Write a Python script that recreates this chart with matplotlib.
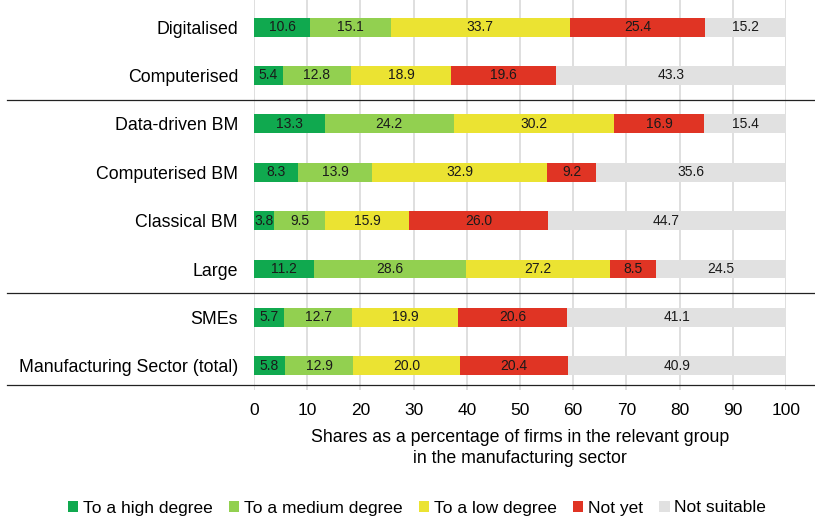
import matplotlib
matplotlib.use("Agg")
import matplotlib.pyplot as plt
import matplotlib.transforms as mtransforms
import numpy as np

plt.rcParams['font.family'] = ['Liberation Sans', 'DejaVu Sans']

categories = ["Digitalised", "Computerised", "Data-driven BM", "Computerised BM",
              "Classical BM", "Large", "SMEs", "Manufacturing Sector (total)"]
series_names = ["To a high degree", "To a medium degree", "To a low degree",
                "Not yet", "Not suitable"]
high = [10.6, 5.4, 13.3, 8.3, 3.8, 11.2, 5.7, 5.8]
medium = [15.1, 12.8, 24.2, 13.9, 9.5, 28.6, 12.7, 12.9]
low = [33.7, 18.9, 30.2, 32.9, 15.9, 27.2, 19.9, 20.0]
not_yet = [25.4, 19.6, 16.9, 9.2, 26.0, 8.5, 20.6, 20.4]
not_suitable = [15.2, 43.3, 15.4, 35.6, 44.7, 24.5, 41.1, 40.9]
xticks = [0, 10, 20, 30, 40, 50, 60, 70, 80, 90, 100]
xlabel = "Shares as a percentage of firms in the relevant group\nin the manufacturing sector"

colors = ["#10a94f", "#92d050", "#ebe332", "#e03424", "#e1e1e1"]

fig = plt.figure(figsize=(8.15, 5.21), dpi=100)
ax = fig.add_axes([254/815, 1 - 390/521, 532/815, 390/521])

y = np.arange(len(categories))
left = np.zeros(len(categories))
for name, vals, col in zip(series_names, [high, medium, low, not_yet, not_suitable], colors):
    vals = np.array(vals)
    bars = ax.barh(y, vals, left=left, height=0.39, color=col, label=name, zorder=2)
    ax.bar_label(bars, labels=[f"{v:.1f}" for v in vals], label_type='center',
                 fontsize=10, color='#1a1a1a')
    left += vals

ax.set_xlim(0, 100)
ax.set_ylim(7.5, -0.56)
ax.set_yticks(y)
ax.set_yticklabels(categories, fontsize=12.8)
ax.set_xticks(xticks)
ax.set_xticklabels([str(t) for t in xticks], fontsize=12.5)
ax.tick_params(axis='y', length=0, pad=11.5)
ax.tick_params(axis='x', length=0, pad=9.5)
ax.grid(axis='x', color='#dcdcdc', linewidth=1.3, zorder=0)
ax.set_axisbelow(True)
for s in ax.spines.values():
    s.set_visible(False)
ax.set_xlabel(xlabel, fontsize=12.8, labelpad=8, linespacing=1.3)

trans = mtransforms.blended_transform_factory(fig.transFigure, ax.transData)
for yy in [1.5, 5.5, 7.4]:
    ax.plot([7/815, 1.0], [yy, yy], transform=trans, color='#222222',
            linewidth=0.9, clip_on=False, zorder=3)

fig.legend(loc='center', bbox_to_anchor=(417/815, 1 - 508/521), ncol=5,
           frameon=False, fontsize=12.5, handlelength=0.6, handleheight=0.6,
           handletextpad=0.25, columnspacing=0.95, borderaxespad=0)

fig.savefig("out.png", dpi=100)
